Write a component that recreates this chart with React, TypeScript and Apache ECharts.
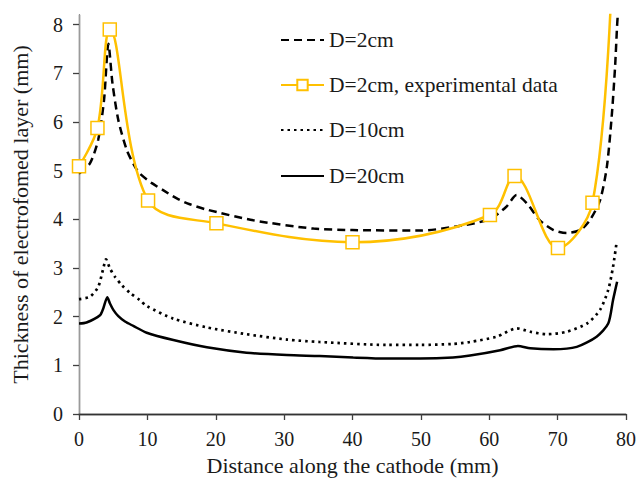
import React, { useEffect, useRef } from "react";
import * as echarts from "echarts";

const seriesNames = ["D=2cm", "D=2cm, experimental data", "D=10cm", "D=20cm"];

const xTicks = [0, 10, 20, 30, 40, 50, 60, 70, 80];
const yTicks = [0, 1, 2, 3, 4, 5, 6, 7, 8];

const d2Sim: [number, number][] = [
  [0, 4.94], [1.6, 5.15], [2.8, 5.63], [3.66, 6.45], [4.3, 7.61], [4.9, 6.79],
  [5.75, 6.04], [7, 5.42], [8.2, 5.08], [8.9, 4.94], [10.6, 4.75], [12.3, 4.6],
  [14.3, 4.43], [16.2, 4.31], [18.7, 4.2], [25.5, 3.98], [34.3, 3.81], [40, 3.78],
  [50, 3.77], [55, 3.85], [60, 4.0], [62.5, 4.26], [64, 4.5], [65.5, 4.33],
  [67.4, 3.98], [69.4, 3.78], [71.3, 3.72], [73.3, 3.78], [74.7, 3.98], [76.2, 4.39],
  [77.2, 5.08], [77.9, 6.1], [78.4, 7.13], [78.7, 7.99], [78.8, 8.2],
];

const d2Exp: [number, number][] = [
  [0, 5.09], [2.7, 5.88], [4.5, 7.9], [10.1, 4.39], [20.1, 3.92], [40, 3.53],
  [60.1, 4.09], [63.7, 4.89], [70.05, 3.41], [75.1, 4.34], [78, 9.3],
];

const d10Sim: [number, number][] = [
  [0, 2.36], [1.6, 2.41], [2.8, 2.61], [3.55, 2.99], [3.95, 3.18], [4.53, 2.99],
  [5.26, 2.82], [6.24, 2.65], [7.46, 2.49], [8.9, 2.34], [9.9, 2.22], [13.8, 1.96],
  [18.7, 1.78], [24.5, 1.64], [30.4, 1.53], [35.2, 1.48], [45, 1.42], [49.9, 1.42],
  [54.7, 1.44], [57.2, 1.48], [61.1, 1.59], [64, 1.76], [66, 1.69], [68.4, 1.64],
  [71.3, 1.69], [74.3, 1.86], [76.2, 2.14], [77.4, 2.55], [78.1, 3.02], [78.6, 3.5],
];

const d20Sim: [number, number][] = [
  [0, 1.86], [1.1, 1.88], [3.07, 2.03], [3.55, 2.17], [4.14, 2.4], [4.53, 2.27],
  [5.02, 2.14], [5.75, 2.01], [6.73, 1.9], [7.94, 1.81], [9.9, 1.67], [13.8, 1.52],
  [18.7, 1.37], [24.5, 1.26], [30.4, 1.21], [35.2, 1.19], [40.1, 1.16], [45, 1.14],
  [49.9, 1.14], [54.7, 1.16], [57.2, 1.2], [61.6, 1.31], [64.2, 1.4], [66, 1.35],
  [69.4, 1.33], [72.8, 1.38], [75.7, 1.59], [77.4, 1.86], [78.1, 2.34], [78.7, 2.72],
];

const FONT = "Liberation Serif";
const TEXT = "#1a1a1a";
const AXIS = "#404040";
const ORANGE = "#FFC000";

export default function App() {
  const ref = useRef<HTMLDivElement>(null);

  useEffect(() => {
    if (!ref.current) return;
    const chart = echarts.init(ref.current, null, { renderer: "svg" });

    const legendTops = [29, 74, 119, 165];
    const legends = seriesNames.map((n, i) => {
      const l: any = {
        data: [n],
        left: 280,
        top: legendTops[i],
        padding: 0,
        itemWidth: 43,
        itemHeight: 13,
        itemGap: 4,
        textStyle: { fontFamily: FONT, fontSize: 21.5, color: TEXT },
        selectedMode: false,
      };
      if (i !== 1) l.itemStyle = { color: "rgba(0,0,0,0)", borderWidth: 0, opacity: 0 };
      return l;
    });

    const labelCommon = (margin: number) => ({
      fontFamily: FONT,
      fontSize: 20,
      color: TEXT,
      margin,
    });

    chart.setOption({
      animation: false,
      backgroundColor: "#ffffff",
      textStyle: { fontFamily: FONT },
      grid: { left: 79, right: 13, top: 15, bottom: 67, containLabel: false },
      legend: legends,
      xAxis: [
        {
          type: "value",
          min: 0,
          max: 80,
          interval: 10,
          name: "Distance along the cathode (mm)",
          nameLocation: "middle",
          nameGap: 40,
          nameTextStyle: { fontFamily: FONT, fontSize: 22, color: TEXT },
          axisLine: { show: true, lineStyle: { color: AXIS, width: 1.3 } },
          axisTick: { show: true, length: 6, customValues: xTicks, lineStyle: { color: AXIS, width: 1.3 } },
          axisLabel: { ...labelCommon(15), customValues: xTicks },
          splitLine: { show: false },
        },
        {
          type: "value",
          position: "top",
          min: 0,
          max: 80,
          axisLine: { show: true, lineStyle: { color: "#333333", width: 1.3 } },
          axisTick: { show: false },
          axisLabel: { show: false },
          splitLine: { show: false },
        },
      ],
      yAxis: [
        {
          type: "value",
          min: 0,
          max: 8.2,
          interval: 1,
          name: "Thickness of electrofomed layer (mm)",
          nameLocation: "middle",
          nameGap: 48,
          nameRotate: 90,
          nameTextStyle: { fontFamily: FONT, fontSize: 22, color: TEXT },
          axisLine: { show: true, lineStyle: { color: AXIS, width: 1.3 } },
          axisTick: { show: true, length: 6, customValues: yTicks, lineStyle: { color: AXIS, width: 1.3 } },
          axisLabel: { ...labelCommon(16), customValues: yTicks },
          splitLine: { show: false },
        },
        {
          type: "value",
          position: "right",
          min: 0,
          max: 8.2,
          axisLine: { show: true, lineStyle: { color: "#9a9a9a", width: 1.3 } },
          axisTick: { show: false },
          axisLabel: { show: false },
          splitLine: { show: false },
        },
      ],
      series: [
        {
          name: seriesNames[0],
          type: "line",
          data: d2Sim,
          smooth: 0.25,
          symbol: "none",
          lineStyle: { color: "#000000", width: 2.5, type: [8, 5] },
          itemStyle: { color: "#000000" },
          z: 3,
        },
        {
          name: seriesNames[1],
          type: "line",
          data: d2Exp,
          smooth: 0.35,
          symbol: "rect",
          symbolSize: 13,
          showSymbol: true,
          lineStyle: { color: ORANGE, width: 2.5 },
          itemStyle: { color: "#ffffff", borderColor: ORANGE, borderWidth: 1.5 },
          z: 4,
        },
        {
          name: seriesNames[2],
          type: "line",
          data: d10Sim,
          smooth: 0.25,
          symbol: "none",
          lineStyle: { color: "#000000", width: 2.7, type: [2.5, 4] },
          itemStyle: { color: "#000000" },
          z: 3,
        },
        {
          name: seriesNames[3],
          type: "line",
          data: d20Sim,
          smooth: 0.25,
          symbol: "none",
          lineStyle: { color: "#000000", width: 2.5 },
          itemStyle: { color: "#000000" },
          z: 3,
        },
      ],
    } as any);

    return () => chart.dispose();
  }, []);

  return (
    <div
      ref={ref}
      style={{ position: "fixed", left: 0, top: 0, width: 639, height: 481, background: "#fff" }}
    />
  );
}
